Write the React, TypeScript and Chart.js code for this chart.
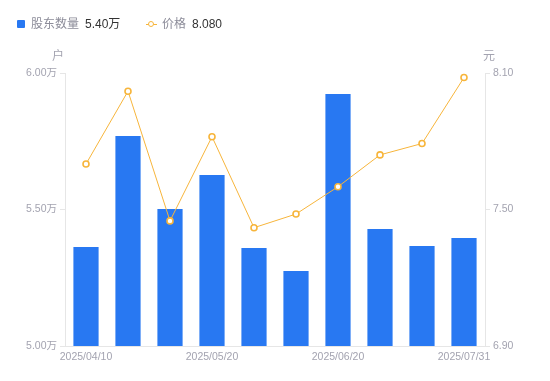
import React, { useEffect, useRef } from "react";
import { Chart, registerables } from "chart.js";

Chart.register(...registerables);

const categories = [
  "2025/04/10", "2025/04/18", "2025/04/30", "2025/05/20", "2025/05/31",
  "2025/06/10", "2025/06/20", "2025/06/30", "2025/07/10", "2025/07/31",
];
const shownLabels = ["2025/04/10", "2025/05/20", "2025/06/20", "2025/07/31"];
const holders = [5.363, 5.769, 5.502, 5.626, 5.359, 5.275, 5.923, 5.429, 5.366, 5.396];
const prices = [7.70, 8.02, 7.45, 7.82, 7.42, 7.48, 7.60, 7.74, 7.79, 8.08];
const leftTicks = [5.0, 5.5, 6.0];
const rightTicks = [6.9, 7.5, 8.1];

const FONT = '"Liberation Sans", "Noto Sans CJK SC", sans-serif';
const BLUE = "#2878f2";
const ORANGE = "#f7b53b";
const GREY = "#a3a3b0";

const titlePlugin = {
  id: "axisTitles",
  afterDraw(chart: any) {
    const ctx = chart.ctx;
    ctx.save();
    ctx.font = `12px ${FONT}`;
    ctx.fillStyle = GREY;
    ctx.textAlign = "center";
    ctx.textBaseline = "middle";
    ctx.fillText("户", 58, 57);
    ctx.fillText("元", 489, 57);
    ctx.restore();
  },
};

export default function App() {
  const ref = useRef<HTMLCanvasElement>(null);
  useEffect(() => {
    const chart = new Chart(ref.current!, {
      type: "bar",
      data: {
        labels: categories,
        datasets: [
          {
            type: "line",
            label: "价格",
            data: prices,
            yAxisID: "y1",
            borderColor: ORANGE,
            borderWidth: 1,
            pointRadius: 3,
            pointBorderWidth: 1.6,
            pointBackgroundColor: "#ffffff",
            pointBorderColor: ORANGE,
            order: 0,
          } as any,
          {
            type: "bar",
            label: "股东数量",
            data: holders,
            yAxisID: "y",
            backgroundColor: BLUE,
            categoryPercentage: 0.6,
            barPercentage: 1,
            order: 1,
          },
        ],
      },
      options: {
        animation: false,
        responsive: false,
        layout: { padding: { top: 73, left: 0, right: 0, bottom: 0 } },
        plugins: { legend: { display: false }, tooltip: { enabled: false } },
        scales: {
          x: {
            grid: { display: true, drawOnChartArea: false, drawTicks: false },
            border: { display: true, color: "#e6e6e6" },
            afterFit(s: any) { s.height = 35; },
            ticks: {
              autoSkip: false,
              maxRotation: 0,
              padding: 5,
              color: GREY,
              font: { size: 10.5, family: FONT },
              callback(_v: any, i: number) {
                const l = categories[i];
                return shownLabels.includes(l) ? l : "";
              },
            },
          },
          y: {
            position: "left",
            min: 5.0,
            max: 6.0,
            afterFit(s: any) { s.width = 65; },
            afterBuildTicks(s: any) { s.ticks = leftTicks.map((v) => ({ value: v })); },
            grid: { drawOnChartArea: false, tickLength: 5, color: "#e6e6e6" },
            border: { display: true, color: "#e6e6e6" },
            ticks: {
              padding: 3,
              color: GREY,
              font: { size: 10.5, family: FONT },
              callback: (v: any) => Number(v).toFixed(2) + "万",
            },
          },
          y1: {
            position: "right",
            min: 6.9,
            max: 8.1,
            afterFit(s: any) { s.width = 65; },
            afterBuildTicks(s: any) { s.ticks = rightTicks.map((v) => ({ value: v })); },
            grid: { drawOnChartArea: false, tickLength: 5, color: "#e6e6e6" },
            border: { display: true, color: "#e6e6e6" },
            ticks: {
              padding: 3,
              color: GREY,
              font: { size: 10.5, family: FONT },
              callback: (v: any) => Number(v).toFixed(2),
            },
          },
        },
      },
      plugins: [titlePlugin],
    });
    return () => chart.destroy();
  }, []);

  const txt: React.CSSProperties = { position: "absolute", top: 16, fontSize: 12, fontFamily: FONT, lineHeight: "16px", whiteSpace: "nowrap" };
  return (
    <div style={{ position: "fixed", left: 0, top: 0, width: 550, height: 381, background: "#fff" }}>
      <canvas ref={ref} width={550} height={381} style={{ position: "absolute", left: 0, top: 0 }} />
      <div style={{ position: "absolute", left: 17, top: 20, width: 8, height: 8, background: BLUE, borderRadius: 1 }} />
      <div style={{ ...txt, left: 31, color: "#8c8c99" }}>股东数量</div>
      <div style={{ ...txt, left: 85, color: "#333" }}>5.40万</div>
      <div style={{ position: "absolute", left: 146, top: 23.5, width: 11, height: 1, background: ORANGE }} />
      <div style={{ position: "absolute", left: 148, top: 21, width: 4, height: 4, borderRadius: "50%", border: `1.5px solid ${ORANGE}`, background: "#fff" }} />
      <div style={{ ...txt, left: 162, color: "#8c8c99" }}>价格</div>
      <div style={{ ...txt, left: 192, color: "#333" }}>8.080</div>
    </div>
  );
}
